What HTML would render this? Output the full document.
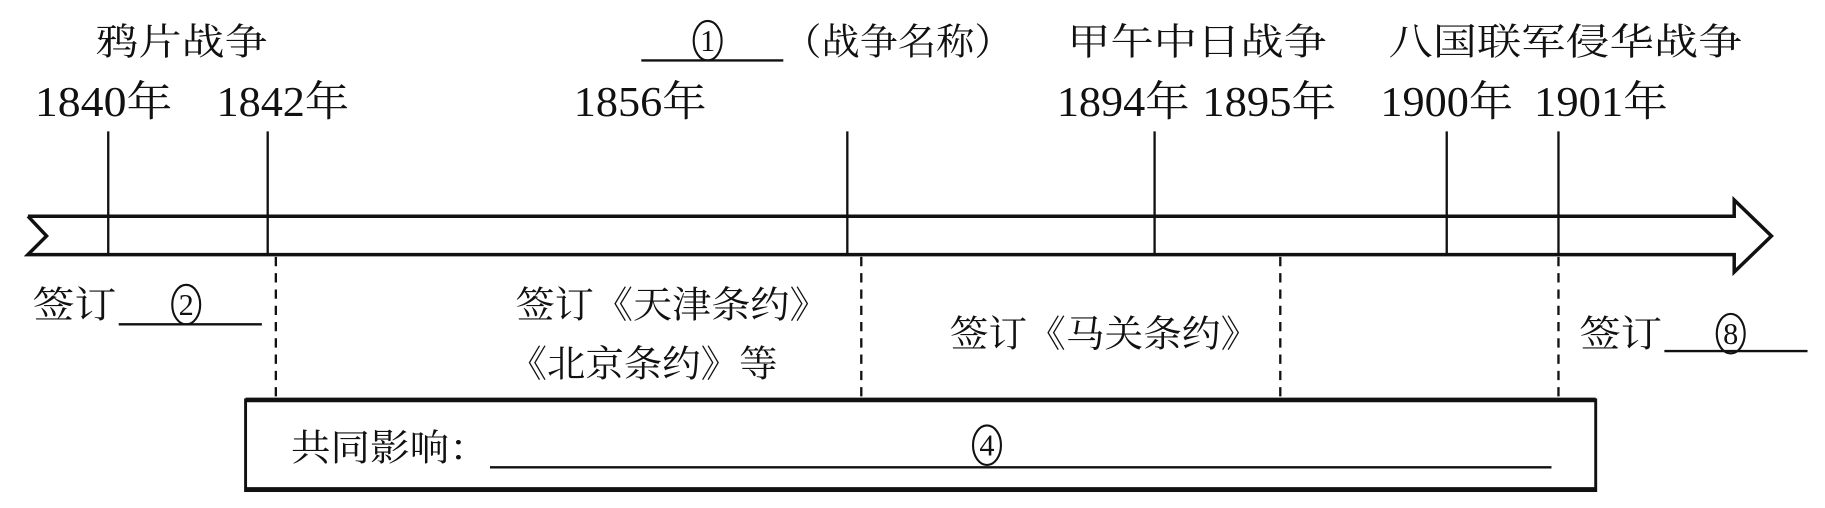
<!DOCTYPE html>
<html><head><meta charset="utf-8"><style>
html,body{margin:0;padding:0;background:#fff;}
svg{display:block}
text{font-family:"Liberation Serif","Noto Serif CJK SC",serif;fill:#111;}
</style></head><body>
<svg width="1825" height="508" viewBox="0 0 1568 437" preserveAspectRatio="none">
<g stroke="#111" fill="none">
<polyline points="24,186 1490,186 1490,172 1522,203 1490,234 1490,219 24,219 40,203 24,186" stroke-width="3"/>
<g stroke-width="2">
<line x1="93" y1="113" x2="93" y2="219"/>
<line x1="230" y1="113" x2="230" y2="219"/>
<line x1="728" y1="113" x2="728" y2="219"/>
<line x1="992" y1="113" x2="992" y2="219"/>
<line x1="1243" y1="113" x2="1243" y2="219"/>
<line x1="1339" y1="113" x2="1339" y2="219"/>
</g>
<g stroke-width="2" stroke-dasharray="8,6">
<line x1="237" y1="221" x2="237" y2="343"/>
<line x1="740" y1="221" x2="740" y2="343"/>
<line x1="1100" y1="221" x2="1100" y2="343"/>
<line x1="1339" y1="221" x2="1339" y2="343"/>
</g>
<rect x="211" y="344" width="1160" height="78" stroke-width="2.5"/>
<line x1="211" y1="344" x2="1371" y2="344" stroke-width="4"/>
<line x1="211" y1="421" x2="1371" y2="421" stroke-width="4"/>
<g stroke-width="2">
<line x1="551" y1="52" x2="673" y2="52"/>
<line x1="102" y1="279" x2="225" y2="279"/>
<line x1="1430" y1="302" x2="1553" y2="302"/>
<line x1="421" y1="402" x2="1333" y2="402"/>
</g>
<g stroke-width="1.8">
<ellipse cx="608" cy="35" rx="12" ry="17"/>
<ellipse cx="160" cy="262" rx="12" ry="17"/>
<ellipse cx="1487" cy="287" rx="12" ry="17"/>
<ellipse cx="848" cy="383" rx="12" ry="17"/>
</g>
</g>
<g font-size="26" text-anchor="middle">
<text x="608" y="44">1</text>
<text x="160" y="271">2</text>
<text x="1487" y="296">8</text>
<text x="848" y="392">4</text>
</g>
<g font-size="32">
<text x="82" y="47" textLength="148" lengthAdjust="spacingAndGlyphs">鸦片战争</text>
<text x="673" y="47" textLength="197" lengthAdjust="spacingAndGlyphs">（战争名称）</text>
<text x="917" y="47" textLength="223" lengthAdjust="spacingAndGlyphs">甲午中日战争</text>
<text x="1193" y="47" textLength="304" lengthAdjust="spacingAndGlyphs">八国联军侵华战争</text>
<g font-size="36">
<text x="30" y="100" textLength="118" lengthAdjust="spacingAndGlyphs">1840年</text>
<text x="186" y="100" textLength="114" lengthAdjust="spacingAndGlyphs">1842年</text>
<text x="493" y="100" textLength="114" lengthAdjust="spacingAndGlyphs">1856年</text>
<text x="908" y="100" textLength="114" lengthAdjust="spacingAndGlyphs">1894年</text>
<text x="1033" y="100" textLength="115" lengthAdjust="spacingAndGlyphs">1895年</text>
<text x="1186" y="100" textLength="114" lengthAdjust="spacingAndGlyphs">1900年</text>
<text x="1318" y="100" textLength="115" lengthAdjust="spacingAndGlyphs">1901年</text>
</g>
<text x="28" y="273" textLength="72" lengthAdjust="spacingAndGlyphs">签订</text>
<text x="443" y="273" textLength="269" lengthAdjust="spacingAndGlyphs">签订《天津条约》</text>
<text x="437" y="324" textLength="231" lengthAdjust="spacingAndGlyphs">《北京条约》等</text>
<text x="816" y="298" textLength="266" lengthAdjust="spacingAndGlyphs">签订《马关条约》</text>
<text x="1357" y="298" textLength="71" lengthAdjust="spacingAndGlyphs">签订</text>
<text x="250" y="396" textLength="170" lengthAdjust="spacingAndGlyphs">共同影响：</text>
</g>
</svg>
</body></html>
